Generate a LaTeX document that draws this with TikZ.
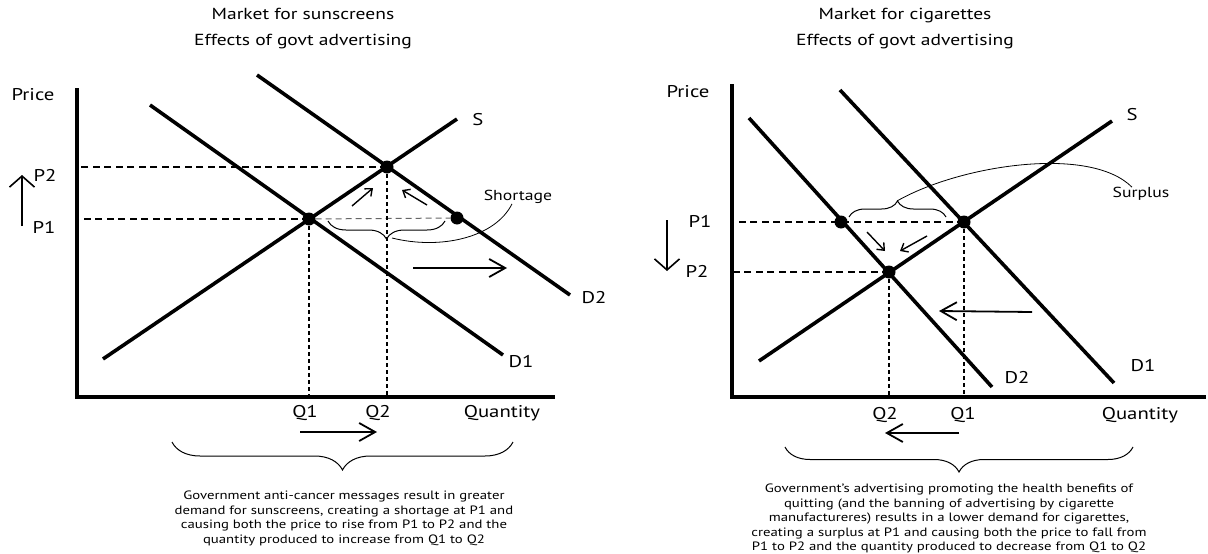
\documentclass[tikz,border=0pt]{standalone}
\usepackage{fontspec}
\setmainfont{PT Sans}[FakeStretch=1.22]
\usetikzlibrary{arrows.meta,positioning,decorations.pathreplacing}

\begin{document}
\begin{tikzpicture}[
    x=1pt, y=-1pt,
    curveline/.style={line width=3.6pt},
    axisline/.style={line width=4pt},
    pguide/.style={line width=1.5pt, dash pattern=on 7pt off 4.5pt},
    qguide/.style={line width=1.8pt, dash pattern=on 4pt off 3pt},
    gapline/.style={line width=1pt, draw=black!60, dash pattern=on 6pt off 4pt},
    eqdot/.style={circle, fill=black, inner sep=0pt, minimum size=13pt},
    lbl/.style={font=\fontsize{17}{19}\selectfont, inner sep=0pt},
    tinylbl/.style={font=\fontsize{14.5}{16}\selectfont, inner sep=0pt},
    headtext/.style={font=\fontsize{16}{26}\selectfont, align=center, inner sep=0pt},
    notetext/.style={font=\fontsize{12.1}{14.5}\selectfont, align=center, inner sep=0pt},
    shiftarrow/.style={-{Straight Barb[length=16pt, width=18pt]}, line width=1.8pt},
    movearrow/.style={-{Straight Barb[length=11pt, width=25pt]}, line width=1.6pt},
    nudgearrow/.style={-{Straight Barb[length=6pt, width=10pt]}, line width=1.4pt},
    bracedeco/.style={decorate, decoration={brace, amplitude=#1}, line width=1pt},
    leader/.style={line width=0.8pt}
]
\useasboundingbox (0,0) rectangle (1208,554);

% Titles
\node[headtext] (Ltitle) at (303,29) {Market for sunscreens\\Effects of govt advertising};
\node[headtext] (Rtitle) at (905,29) {Market for cigarettes\\Effects of govt advertising};

% Left: axes and curves
\coordinate (Ltop) at (77,88);
\coordinate (Lend) at (555,397);
\draw[axisline] (Ltop) |- (Lend);
\coordinate (LSa) at (103,359);
\coordinate (LSb) at (457,119);
\coordinate (LDonea) at (150,105);
\coordinate (LDoneb) at (503,355);
\coordinate (LDtwoa) at (257,75);
\coordinate (LDtwob) at (570,295);
\draw[curveline] (LSa) -- (LSb);
\draw[curveline] (LDonea) -- (LDoneb);
\draw[curveline] (LDtwoa) -- (LDtwob);

\node[eqdot] (LE1) at (309,219) {};
\node[eqdot] (LE2) at (387,167) {};
\node[eqdot] (Lshort) at (457,218) {};

\draw[pguide] (LE2.center) -- (LE2.center -| Ltop);
\draw[pguide] (LE1.center) -- (LE1.center -| Ltop);
\draw[gapline] (LE1) -- (Lshort);
\draw[qguide] (LE1.center) -- (LE1.center |- Lend);
\draw[qguide] (LE2.center) -- (LE2.center |- Lend);

% Left: labels
\node[lbl] (Lprice) at (33,95) {Price};
\node[lbl] (LPtwo) at (45,175) {P2};
\node[lbl] (LPone) at (44,227) {P1};
\node[lbl] (LSlbl) at (478,120) {S};
\node[lbl] (LDonelbl) at (521,362) {D1};
\node[lbl] (LDtwolbl) at (594,298) {D2};
\node[lbl] (LQone) at (305,413) {Q1};
\node[lbl] (LQtwo) at (378,413) {Q2};
\node[lbl] (Lqty) at (502,413) {Quantity};
\node[tinylbl] (Lshortlbl) at (518,197) {Shortage};

% Left: arrows
\coordinate (Lupa) at (22,226);
\coordinate (Lupb) at (22,175);
\draw[movearrow] (Lupa) -- (Lupb);
\coordinate (Lnudgea) at (352,206);
\coordinate (Lnudgeb) at (373,188);
\draw[nudgearrow] (Lnudgea) -- (Lnudgeb);
\coordinate (Lnudgec) at (427,205);
\coordinate (Lnudged) at (402,190);
\draw[nudgearrow] (Lnudgec) -- (Lnudged);
\coordinate (Lshifta) at (413,268);
\coordinate (Lshiftb) at (507,268);
\draw[shiftarrow] (Lshifta) -- (Lshiftb);
\coordinate (Lqa) at (300,432);
\coordinate (Lqb) at (377,432);
\draw[shiftarrow] (Lqa) -- (Lqb);

% Left: braces and note
\coordinate (Lgapa) at (445,221);
\coordinate (Lgapb) at (328,221);
\draw[bracedeco=18pt] (Lgapa) -- (Lgapb);
\coordinate (Lgaptip) at (392,238);
\draw[leader] (Lgaptip) .. controls (440,250) and (495,238) .. ([xshift=-6pt]Lshortlbl.south);
\coordinate (Lbracea) at (513,442);
\coordinate (Lbraceb) at (172,442);
\draw[bracedeco=28pt] (Lbracea) -- (Lbraceb);
\node[notetext] (Lnote) at (344,518.5) {Government anti-cancer messages result in greater\\demand for sunscreens, creating a shortage at P1 and\\causing both the price to rise from P1 to P2 and the\\quantity produced to increase from Q1 to Q2};

% Right: axes and curves
\coordinate (Rtop) at (732,84);
\coordinate (Rend) at (1206,397);
\draw[axisline] (Rtop) |- (Rend);
\coordinate (RSa) at (759,361);
\coordinate (RSb) at (1112,121);
\coordinate (RDonea) at (840,90);
\coordinate (RDoneb) at (1114,383);
\coordinate (RDtwoa) at (749,118);
\coordinate (RDtwob) at (992,387);
\draw[curveline] (RSa) -- (RSb);
\draw[curveline] (RDonea) -- (RDoneb);
\draw[curveline] (RDtwoa) -- (RDtwob);

\node[eqdot] (RE1) at (964,222) {};
\node[eqdot] (RE2) at (889,272) {};
\node[eqdot] (Rsurp) at (841,222) {};

\draw[pguide] (RE1.center) -- (RE1.center -| Rtop);
\draw[pguide] (RE2.center) -- (RE2.center -| Rtop);
\draw[qguide] (RE1.center) -- (RE1.center |- Rend);
\draw[qguide] (RE2.center) -- (RE2.center |- Rend);

% Right: labels
\node[lbl] (Rprice) at (688,92) {Price};
\node[lbl] (RPone) at (700,221) {P1};
\node[lbl] (RPtwo) at (697,271) {P2};
\node[lbl] (RSlbl) at (1132,115) {S};
\node[lbl] (RDonelbl) at (1143,366) {D1};
\node[lbl] (RDtwolbl) at (1017,378) {D2};
\node[lbl] (RQtwo) at (885,415) {Q2};
\node[lbl] (RQone) at (963,415) {Q1};
\node[lbl] (Rqty) at (1140,415) {Quantity};
\node[tinylbl] (Rsurplbl) at (1141,194) {Surplus};

% Right: arrows
\coordinate (Rdowna) at (667,220);
\coordinate (Rdownb) at (667,271);
\draw[movearrow] (Rdowna) -- (Rdownb);
\coordinate (Rnudgea) at (867,232);
\coordinate (Rnudgeb) at (885,251);
\draw[nudgearrow] (Rnudgea) -- (Rnudgeb);
\coordinate (Rnudgec) at (927,236);
\coordinate (Rnudged) at (900,251);
\draw[nudgearrow] (Rnudgec) -- (Rnudged);
\coordinate (Rshifta) at (1032,312);
\coordinate (Rshiftb) at (939,311);
\draw[shiftarrow] (Rshifta) -- (Rshiftb);
\coordinate (Rqa) at (959,433);
\coordinate (Rqb) at (885,433);
\draw[shiftarrow] (Rqa) -- (Rqb);

% Right: braces and note
\coordinate (Rgapa) at (849,217);
\coordinate (Rgapb) at (946,217);
\draw[bracedeco=16pt] (Rgapa) -- (Rgapb);
\coordinate (Rgaptip) at (897,201);
\draw[leader] (Rgaptip) .. controls (960,165) and (1090,145) .. ([xshift=-9pt]Rsurplbl.north);
\coordinate (Rbracea) at (1133,447);
\coordinate (Rbraceb) at (785,447);
\draw[bracedeco=25pt] (Rbracea) -- (Rbraceb);
\node[notetext] (Rnote) at (949,518.5) {Government's advertising promoting the health benefits of\\quitting (and the banning of advertising by cigarette\\manufactureres) results in a lower demand for cigarettes,\\creating a surplus at P1 and causing both the price to fall from\\P1 to P2 and the quantity produced to decrease from Q1 to Q2};

\end{tikzpicture}
\end{document}
